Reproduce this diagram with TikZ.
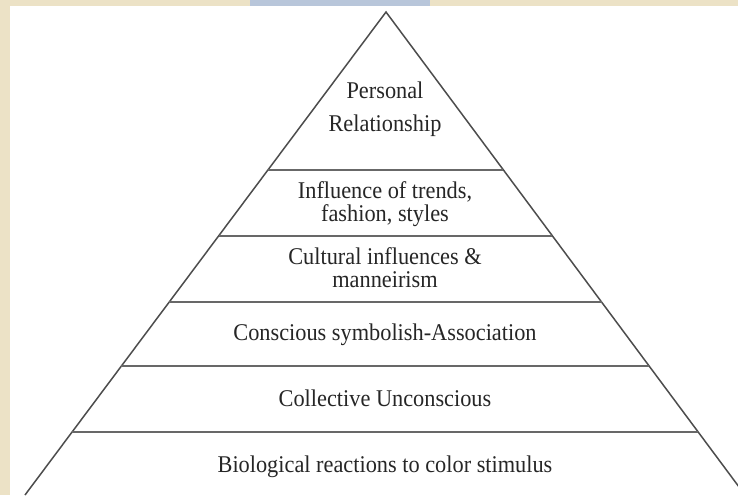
\documentclass[tikz,border=0pt]{standalone}
\usepackage{fontspec}
\setmainfont{Liberation Serif}[FakeStretch=0.93]
\usetikzlibrary{calc}

\definecolor{wmtan}{HTML}{ECE2C6}
\definecolor{wmblue}{HTML}{B8C6DA}
\definecolor{edgegray}{HTML}{4D4D4D}

\begin{document}
\begin{tikzpicture}[x=1pt, y=-1pt,
        tier/.style={font=\fontsize{24}{22.5}\selectfont, align=center, text=black!85, inner sep=0pt, anchor=base},
        edge/.style={draw=edgegray, line width=1.5pt},
        band/.style={draw=edgegray!85, line width=2pt}
    ]
    \useasboundingbox (0,0) rectangle (738,495);
    % Background
    \fill[wmtan] (0,0) rectangle (738,495);
    \fill[wmblue] (250,0) rectangle (430,6);
    \fill[white] (10,6) rectangle (738,495);

    % Outline
    \coordinate (apex) at (386,12);
    \coordinate (bl) at (25,495);
    \coordinate (br) at (745,495);
    \begin{scope}
        \clip (0,0) rectangle (738,495);
        \draw[edge, line join=miter] (bl) -- (apex) -- (br);
    \end{scope}

    % Tier lines
    \foreach \h/\n in {170/a, 236/b, 302/c, 366/d, 432/e}{
        \pgfmathsetmacro\tierxl{386-(\h-12)/483*361}
        \pgfmathsetmacro\tierxr{386+(\h-12)/483*359}
        \coordinate (\n-left) at (\tierxl,\h);
        \coordinate (\n-right) at (\tierxr,\h);
        \draw[band] (\n-left) -- (\n-right);
    }

    % Labels (base = last line)
    \node[tier] (personal) at (385,131.5) {Personal\\[11pt]Relationship};
    \node[tier] (trends) at (385,221) {Influence of trends,\\fashion, styles};
    \node[tier] (cultural) at (385,287) {Cultural influences \&\\manneirism};
    \node[tier] (symbol) at (385,340) {Conscious symbolish-Association};
    \node[tier] (collective) at (385,406.5) {Collective Unconscious};
    \node[tier] (bio) at (385,472) {Biological reactions to color stimulus};
\end{tikzpicture}
\end{document}
